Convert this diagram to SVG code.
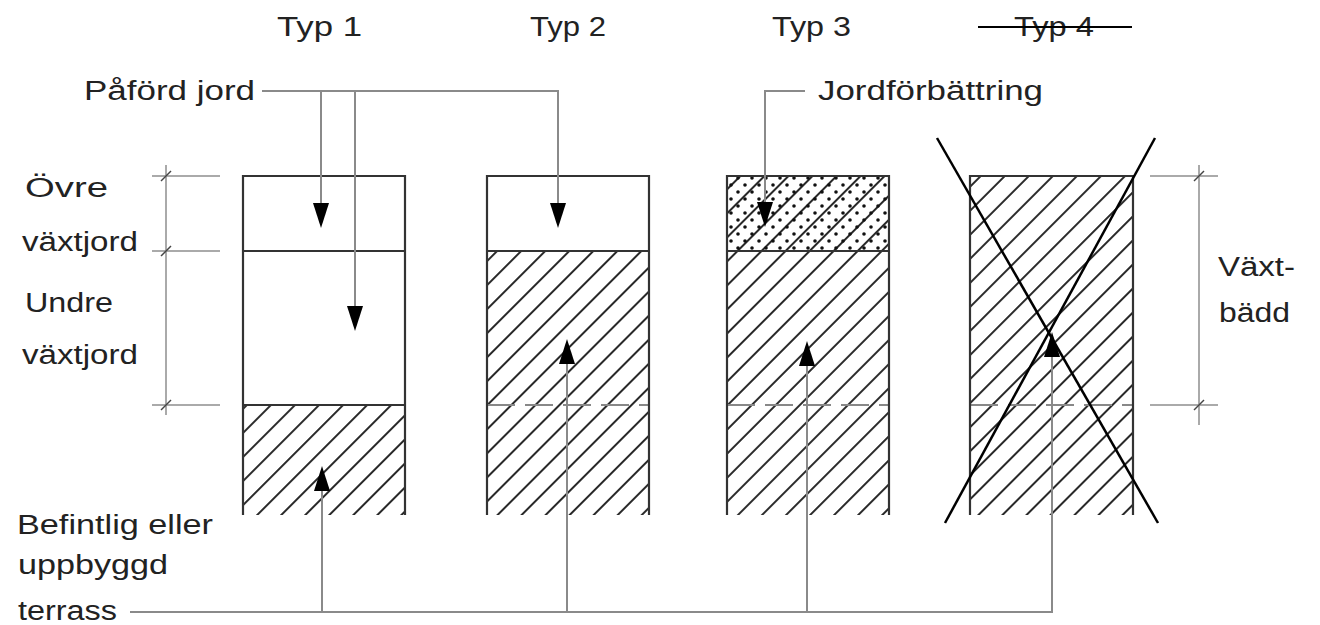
<svg xmlns="http://www.w3.org/2000/svg" width="1320" height="625" viewBox="0 0 1320 625">
<defs>
<pattern id="hatch" patternUnits="userSpaceOnUse" width="17" height="17" patternTransform="rotate(45)">
<line x1="2" y1="0" x2="2" y2="17" stroke="#111" stroke-width="1.8"/>
</pattern>
<pattern id="dots" patternUnits="userSpaceOnUse" width="14" height="14">
<circle cx="3" cy="3" r="1.8" fill="#111"/>
<circle cx="10" cy="10" r="1.8" fill="#111"/>
</pattern>
<style>
.t{font-family:"Liberation Sans",Arial,sans-serif;font-size:27px;fill:#222}
.box{fill:none;stroke:#333;stroke-width:2.2}
.lead{fill:none;stroke:#8a8a8a;stroke-width:2}
.dash{stroke:#888;stroke-width:2;stroke-dasharray:28 10}
.ah{fill:#000}
.tick{stroke:#444;stroke-width:1.5}
.dim{stroke:#aaa;stroke-width:2}
</style>
</defs>
<rect width="1320" height="625" fill="#fff"/>

<g id="headers">
<text class="t" x="277" y="36" textLength="85" lengthAdjust="spacingAndGlyphs">Typ 1</text>
<text class="t" x="530" y="36" textLength="76" lengthAdjust="spacingAndGlyphs">Typ 2</text>
<text class="t" x="772" y="36" textLength="79" lengthAdjust="spacingAndGlyphs">Typ 3</text>
<text class="t" x="1014" y="36" textLength="80" lengthAdjust="spacingAndGlyphs">Typ 4</text>
<line x1="978" y1="27" x2="1132" y2="27" stroke="#000" stroke-width="2.2"/>
</g>

<g id="left-labels">
<text class="t" x="25" y="197" textLength="83" lengthAdjust="spacingAndGlyphs">Övre</text>
<text class="t" x="22" y="251" textLength="116" lengthAdjust="spacingAndGlyphs">växtjord</text>
<text class="t" x="25" y="312" textLength="88" lengthAdjust="spacingAndGlyphs">Undre</text>
<text class="t" x="22" y="364" textLength="116" lengthAdjust="spacingAndGlyphs">växtjord</text>
<text class="t" x="17" y="534" textLength="196" lengthAdjust="spacingAndGlyphs">Befintlig eller</text>
<text class="t" x="18" y="574" textLength="150" lengthAdjust="spacingAndGlyphs">uppbyggd</text>
<text class="t" x="18" y="620" textLength="99" lengthAdjust="spacingAndGlyphs">terrass</text>
</g>

<g id="right-labels">
<text class="t" x="1218" y="276" textLength="77" lengthAdjust="spacingAndGlyphs">Växt-</text>
<text class="t" x="1219" y="322" textLength="71" lengthAdjust="spacingAndGlyphs">bädd</text>
</g>

<g id="dimension-left">
<line class="dim" x1="166" y1="165" x2="166" y2="415"/>
<line class="dim" x1="152" y1="176" x2="220" y2="176"/>
<line class="dim" x1="152" y1="251" x2="220" y2="251"/>
<line class="dim" x1="152" y1="405" x2="220" y2="405"/>
<line class="tick" x1="161" y1="181" x2="171" y2="171"/>
<line class="tick" x1="161" y1="256" x2="171" y2="246"/>
<line class="tick" x1="161" y1="410" x2="171" y2="400"/>
</g>

<g id="dimension-right">
<line class="dim" x1="1199" y1="165" x2="1199" y2="425"/>
<line class="dim" x1="1150" y1="176" x2="1218" y2="176"/>
<line class="dim" x1="1150" y1="405" x2="1218" y2="405"/>
<line class="tick" x1="1194" y1="181" x2="1204" y2="171"/>
<line class="tick" x1="1194" y1="410" x2="1204" y2="400"/>
</g>

<g id="typ1">
<rect x="243" y="405" width="162" height="110" fill="url(#hatch)"/>
<path class="box" d="M243,515 V176 H405 V515 M243,251 H405 M243,405 H405"/>
</g>

<g id="typ2">
<rect x="487" y="251" width="162" height="264" fill="url(#hatch)"/>
<line class="dash" x1="487" y1="405" x2="649" y2="405"/>
<path class="box" d="M487,515 V176 H649 V515 M487,251 H649"/>
</g>

<g id="typ3">
<rect x="727" y="176" width="162" height="339" fill="url(#hatch)"/>
<rect x="727" y="176" width="162" height="75" fill="url(#dots)"/>
<line class="dash" x1="727" y1="405" x2="889" y2="405"/>
<path class="box" d="M727,515 V176 H889 V515 M727,251 H889"/>
</g>

<g id="typ4">
<rect x="970" y="176" width="163" height="339" fill="url(#hatch)"/>
<line class="dash" x1="970" y1="405" x2="1133" y2="405"/>
<path class="box" d="M970,515 V176 H1133 V515"/>
<line x1="937" y1="138" x2="1158" y2="523" stroke="#000" stroke-width="2.5"/>
<line x1="1155" y1="138" x2="945" y2="523" stroke="#000" stroke-width="2.5"/>
</g>

<g id="label-paford">
<text class="t" x="84" y="100" textLength="171" lengthAdjust="spacingAndGlyphs">Påförd jord</text>
</g>
<g id="label-jordforbattring">
<text class="t" x="818" y="100" textLength="225" lengthAdjust="spacingAndGlyphs">Jordförbättring</text>
</g>

<g id="connectors">
<path class="lead" d="M262,91 H558 V205"/>
<path class="lead" d="M321,91 V205"/>
<path class="lead" d="M355,91 V308"/>
<path class="lead" d="M805,91 H765 V205"/>
<path class="lead" d="M130,612 H1052 V355"/>
<path class="lead" d="M322,612 V488"/>
<path class="lead" d="M567,612 V362"/>
<path class="lead" d="M807,612 V364"/>
<polygon class="ah" points="313,203 329,203 321,228"/>
<polygon class="ah" points="347,306 363,306 355,331"/>
<polygon class="ah" points="550,203 566,203 558,228"/>
<polygon class="ah" points="757,202 773,202 765,227"/>
<polygon class="ah" points="314,491 330,491 322,466"/>
<polygon class="ah" points="559,364 575,364 567,339"/>
<polygon class="ah" points="799,366 815,366 807,341"/>
<polygon class="ah" points="1044,357 1060,357 1052,332"/>
</g>
</svg>
